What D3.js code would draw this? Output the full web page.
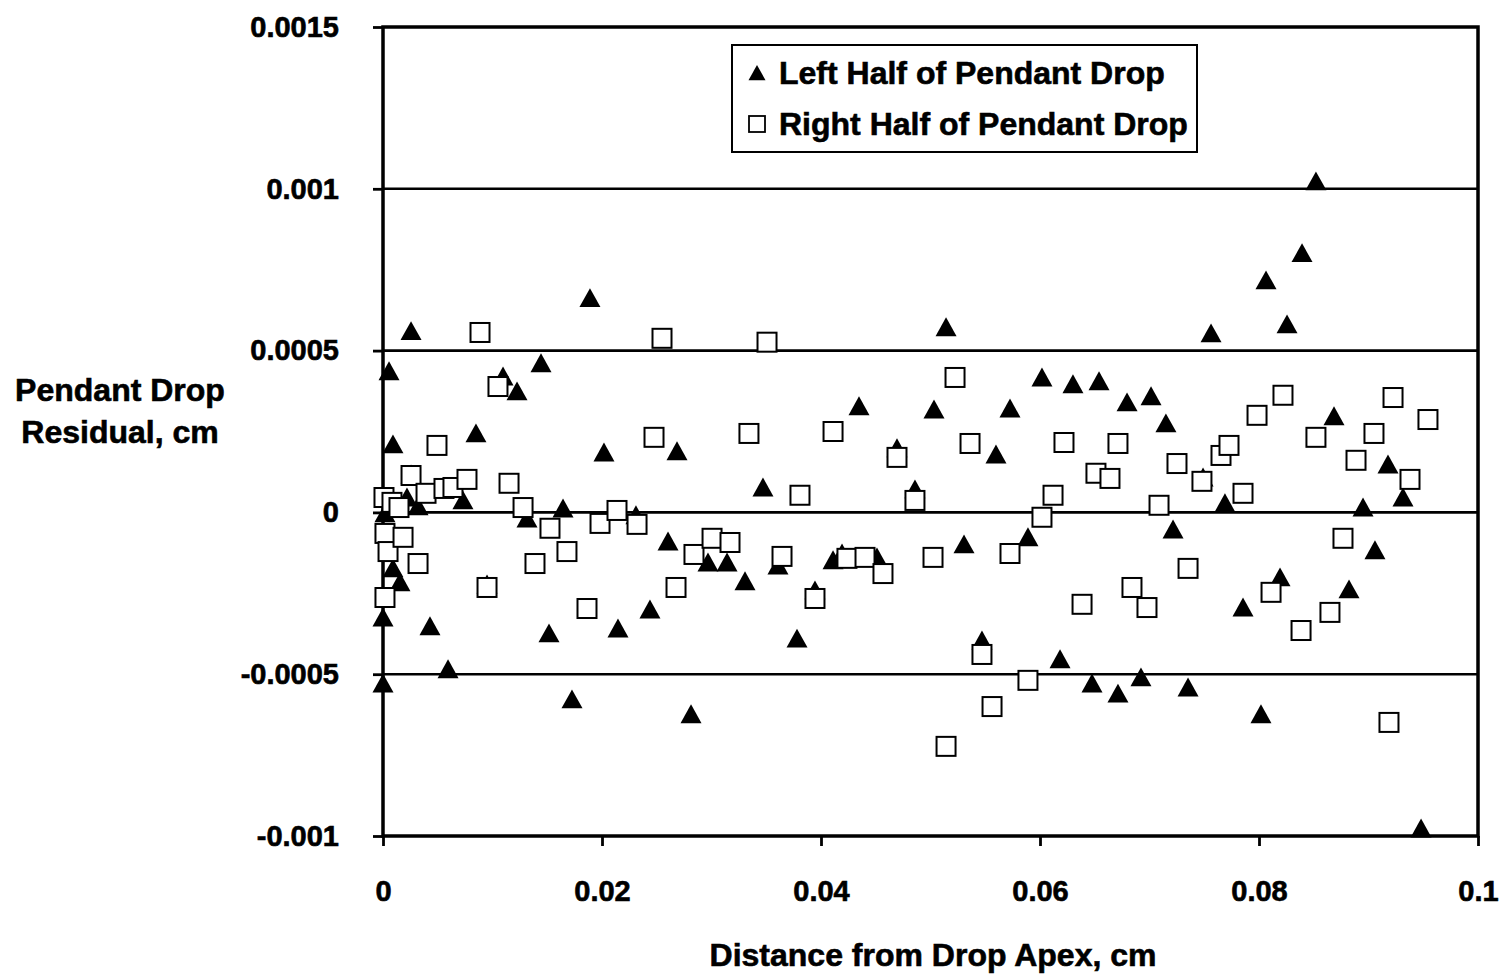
<!DOCTYPE html>
<html>
<head>
<meta charset="utf-8">
<script src="https://cdn.jsdelivr.net/npm/d3@7"></script>
<style>
  html, body { margin: 0; padding: 0; background: #fff; }
  svg { display: block; }
  text { font-family: "Liberation Sans", Arial, sans-serif; font-weight: bold; fill: #000; stroke: #000; stroke-width: 0.6px; }
</style>
</head>
<body>
<svg id="chart" width="1505" height="976"></svg>
<script>
// ---- data ----
const leftX = [0, 0, 0.00018, 0.00055, 0.00091, 0.00091, 0.00155, 0.00219, 0.00256, 0.00256, 0.0032, 0.00429, 0.00566, 0.00594, 0.0073, 0.00849, 0.0095, 0.01096, 0.01224, 0.01315, 0.01443, 0.01516, 0.01644, 0.01726, 0.0189, 0.02018, 0.02146, 0.0231, 0.02438, 0.02603, 0.02685, 0.02813, 0.02968, 0.03142, 0.03306, 0.0347, 0.03607, 0.03781, 0.03945, 0.0411, 0.04192, 0.04347, 0.04511, 0.04694, 0.04858, 0.05032, 0.05142, 0.05306, 0.0547, 0.05598, 0.05726, 0.0589, 0.06018, 0.06183, 0.06301, 0.06475, 0.06539, 0.06712, 0.06795, 0.06922, 0.07014, 0.0715, 0.07215, 0.07352, 0.07489, 0.07562, 0.07689, 0.07854, 0.08018, 0.08064, 0.08192, 0.08256, 0.08393, 0.0852, 0.08685, 0.08822, 0.0895, 0.09059, 0.09178, 0.09315, 0.0948];
const leftY = [-0.000529, -0.000325, -0.000003, 0.000436, 0.00021, -0.000173, -0.000216, 0.000046, 0.00056, 0.000117, 0.000019, -0.000352, 0.000074, -0.000485, 0.000037, 0.000244, -0.000223, 0.00042, 0.000374, -0.000019, 0.000461, -0.000374, 0.000012, -0.000578, 0.000662, 0.000185, -0.000359, -0.000009, -0.0003, -0.00009, 0.000189, -0.000624, -0.000155, -0.000155, -0.000213, 0.000077, -0.000164, -0.00039, -0.000241, -0.000148, -0.000127, 0.000328, -0.000139, 0.000198, 0.000071, 0.000318, 0.000572, -0.000099, -0.000396, 0.000179, 0.000321, -0.000077, 0.000417, -0.000454, 0.000396, -0.000529, 0.000405, -0.00056, 0.00034, -0.00051, 0.000359, 0.000275, -0.000053, -0.000541, 0.000108, 0.000553, 0.000028, -0.000294, -0.000624, 0.000717, -0.000201, 0.000581, 0.000801, 0.001023, 0.000297, -0.000238, 0.000015, -0.000117, 0.000148, 0.000046, -0.000977];

const rightX = [0.00009, 0.00018, 0.00046, 0.00018, 0.00082, 0.00146, 0.00183, 0.00256, 0.0032, 0.00393, 0.00493, 0.00557, 0.00639, 0.00767, 0.00886, 0.0095, 0.0105, 0.01151, 0.01279, 0.01388, 0.01525, 0.0168, 0.01863, 0.01982, 0.02137, 0.0232, 0.02475, 0.02548, 0.02676, 0.0284, 0.03005, 0.03169, 0.03342, 0.03507, 0.03644, 0.03808, 0.03945, 0.0411, 0.04237, 0.04402, 0.04566, 0.04694, 0.04858, 0.05023, 0.05142, 0.05224, 0.05361, 0.0547, 0.05562, 0.05726, 0.0589, 0.06018, 0.06119, 0.06219, 0.06384, 0.06511, 0.06639, 0.06712, 0.0684, 0.06977, 0.07087, 0.07251, 0.07352, 0.07479, 0.07653, 0.07726, 0.07854, 0.07982, 0.0811, 0.08219, 0.08384, 0.0852, 0.08648, 0.08767, 0.08886, 0.0905, 0.09187, 0.09224, 0.09379, 0.09543];
const rightY = [0.000046, -0.000065, -0.000121, -0.000263, 0.000031, 0.000015, -0.000077, 0.000114, -0.000158, 0.000059, 0.000207, 0.000074, 0.000077, 0.000102, 0.000556, -0.000232, 0.000389, 0.00009, 0.000015, -0.000158, -0.000049, -0.000121, -0.000297, -0.000034, 0.000006, -0.000037, 0.000232, 0.000538, -0.000232, -0.00013, -0.00008, -0.000093, 0.000244, 0.000526, -0.000136, 0.000053, -0.000266, 0.00025, -0.000142, -0.000139, -0.000189, 0.00017, 0.000037, -0.000139, -0.000723, 0.000417, 0.000213, -0.000439, -0.0006, -0.000127, -0.000519, -0.000015, 0.000053, 0.000216, -0.000284, 0.000121, 0.000105, 0.000213, -0.000232, -0.000294, 0.000022, 0.000151, -0.000173, 0.000096, 0.000176, 0.000207, 0.000059, 0.0003, -0.000247, 0.000362, -0.000365, 0.000232, -0.000309, -0.00008, 0.000161, 0.000244, -0.000649, 0.000355, 0.000102, 0.000287];

const xTicks = [0, 0.02, 0.04, 0.06, 0.08, 0.1];
const xTickLabels = ["0", "0.02", "0.04", "0.06", "0.08", "0.1"];
const yTicks = [-0.001, -0.0005, 0, 0.0005, 0.001, 0.0015];
const yTickLabels = ["-0.001", "-0.0005", "0", "0.0005", "0.001", "0.0015"];
const gridValues = [-0.0005, 0, 0.0005, 0.001];
const seriesNames = ["Left Half of Pendant Drop", "Right Half of Pendant Drop"];
const xTitle = "Distance from Drop Apex, cm";
const yTitleLines = ["Pendant Drop", "Residual, cm"];

// ---- layout ----
const plot = { left: 383, right: 1478, top: 27, bottom: 836 };
const svg = d3.select("#chart");
const x = d3.scaleLinear().domain([0, 0.1]).range([plot.left, plot.right]);
const y = d3.scaleLinear().domain([-0.001, 0.0015]).range([plot.bottom, plot.top]);

// gridlines
svg.append("g").selectAll("line").data(gridValues).join("line")
  .attr("x1", plot.left).attr("x2", plot.right)
  .attr("y1", d => y(d)).attr("y2", d => y(d))
  .attr("stroke", "#000").attr("stroke-width", 2.6);

// frame
svg.append("rect")
  .attr("x", plot.left).attr("y", plot.top)
  .attr("width", plot.right - plot.left).attr("height", plot.bottom - plot.top)
  .attr("fill", "none").attr("stroke", "#000").attr("stroke-width", 3.5);

const tickFont = (sel) => sel.attr("font-size", 29)
  .attr("font-family", "Liberation Sans, Arial, sans-serif")
  .attr("font-weight", "bold").attr("fill", "#000");

// y axis
const yAxis = d3.axisLeft(y).tickValues(yTicks)
  .tickFormat((d, i) => yTickLabels[i]).tickSize(10).tickPadding(34);
const gy = svg.append("g").attr("transform", `translate(${plot.left},0)`).call(yAxis);
gy.select(".domain").remove();
gy.selectAll(".tick line").attr("stroke", "#000").attr("stroke-width", 2.8);
gy.selectAll(".tick text").call(tickFont);

// x axis
const xAxis = d3.axisBottom(x).tickValues(xTicks)
  .tickFormat((d, i) => xTickLabels[i]).tickSize(10).tickPadding(34);
const gx = svg.append("g").attr("transform", `translate(0,${plot.bottom})`).call(xAxis);
gx.select(".domain").remove();
gx.selectAll(".tick line").attr("stroke", "#000").attr("stroke-width", 2.8);
gx.selectAll(".tick text").call(tickFont);

// axis titles
svg.append("text").attr("x", 933).attr("y", 966).attr("text-anchor", "middle")
  .attr("font-size", 32).text(xTitle);
svg.append("g").selectAll("text").data(yTitleLines).join("text")
  .attr("x", 120).attr("y", (d, i) => 401 + i * 42).attr("text-anchor", "middle")
  .attr("font-size", 32).text(d => d);

// markers
const tri = (s) => `M0,${-s * 0.95}L${s},${s * 0.85}L${-s},${s * 0.85}Z`;
const leftData = leftX.map((v, i) => [v, leftY[i]]);
const rightData = rightX.map((v, i) => [v, rightY[i]]);

svg.append("g").selectAll("path").data(leftData).join("path")
  .attr("transform", d => `translate(${x(d[0])},${y(d[1])})`)
  .attr("d", tri(10.5)).attr("fill", "#000");

const sq = 19;
svg.append("g").selectAll("rect").data(rightData).join("rect")
  .attr("x", d => x(d[0]) - sq / 2).attr("y", d => y(d[1]) - sq / 2)
  .attr("width", sq).attr("height", sq)
  .attr("fill", "#fff").attr("stroke", "#000").attr("stroke-width", 2);

// legend
const lg = svg.append("g");
lg.append("rect").attr("x", 732).attr("y", 45).attr("width", 465).attr("height", 107)
  .attr("fill", "#fff").attr("stroke", "#000").attr("stroke-width", 2);
lg.append("path").attr("transform", "translate(757,73)").attr("d", tri(8.5)).attr("fill", "#000");
lg.append("rect").attr("x", 749).attr("y", 116).attr("width", 16).attr("height", 16)
  .attr("fill", "#fff").attr("stroke", "#000").attr("stroke-width", 1.8);
lg.selectAll("text").data(seriesNames).join("text")
  .attr("x", 779).attr("y", (d, i) => 84 + i * 51)
  .attr("font-size", 32).text(d => d);
</script>
</body>
</html>
